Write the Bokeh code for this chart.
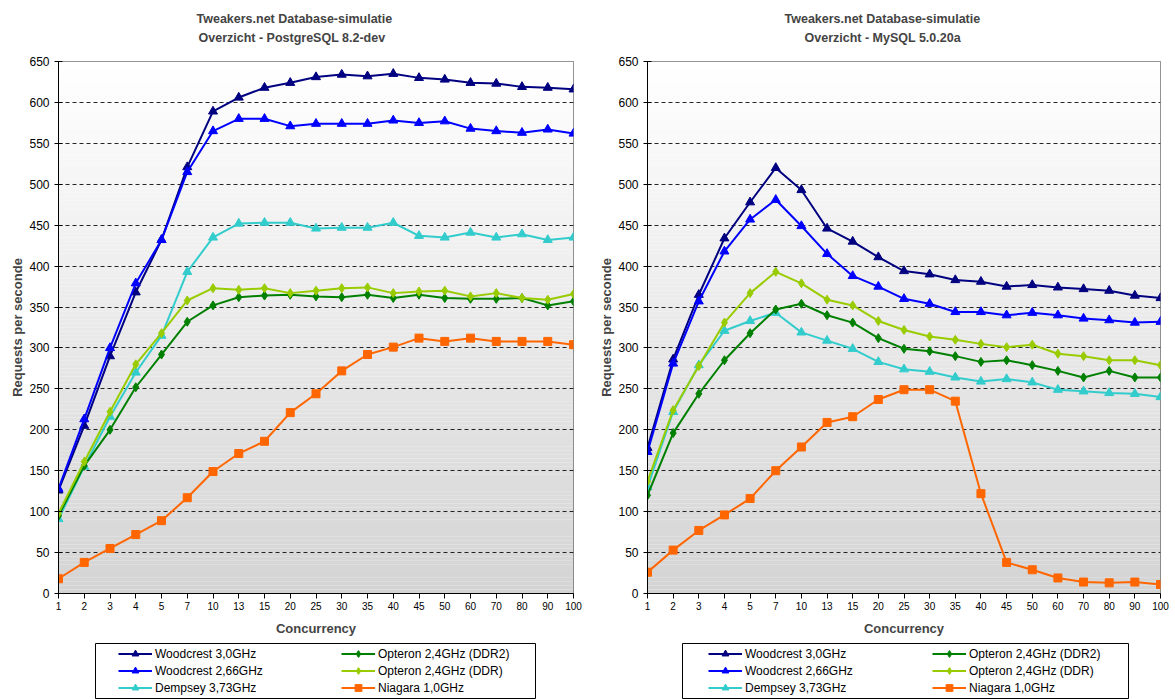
import numpy as np
from bokeh.plotting import figure
from bokeh.models import Title, Range1d, FixedTicker, Legend, LegendItem
from bokeh.layouts import row, column
from bokeh.embed import file_html
from bokeh.resources import INLINE

# ---------------- data ----------------
concurrency = ["1", "2", "3", "4", "5", "7", "10", "13", "15", "20", "25",
               "30", "35", "40", "45", "50", "60", "70", "80", "90", "100"]
y_ticks = list(range(0, 651, 50))

series_names = ["Woodcrest 3,0GHz", "Woodcrest 2,66GHz", "Dempsey 3,73GHz",
                "Opteron 2,4GHz (DDR2)", "Opteron 2,4GHz (DDR)", "Niagara 1,0GHz"]

# PostgreSQL 8.2-dev
pg_woodcrest30 = [126, 205, 290, 368, 432, 521, 589, 606, 618, 624, 631, 634, 632, 635, 630, 628, 624, 623, 619, 618, 616]
pg_woodcrest266 = [128, 213, 300, 379, 432, 515, 565, 580, 580, 571, 574, 574, 574, 578, 575, 577, 568, 565, 563, 567, 562]
pg_dempsey = [91, 155, 216, 270, 315, 393, 435, 452, 453, 453, 446, 447, 447, 453, 437, 435, 441, 435, 439, 432, 435]
pg_opteron_ddr2 = [95, 156, 200, 252, 292, 332, 352, 362, 364, 365, 363, 362, 365, 361, 365, 361, 360, 360, 361, 352, 357]
pg_opteron_ddr = [98, 161, 222, 280, 318, 358, 373, 371, 373, 367, 370, 373, 374, 367, 369, 370, 363, 367, 361, 359, 366]
pg_niagara = [18, 38, 55, 72, 89, 117, 149, 171, 186, 221, 244, 272, 292, 301, 312, 308, 312, 308, 308, 308, 304]

# MySQL 5.0.20a
my_woodcrest30 = [178, 286, 365, 434, 478, 520, 493, 446, 430, 411, 394, 390, 383, 381, 375, 377, 374, 372, 370, 364, 361]
my_woodcrest266 = [173, 281, 357, 418, 457, 481, 449, 415, 388, 375, 360, 354, 344, 344, 340, 343, 340, 336, 334, 331, 332]
my_dempsey = [130, 222, 279, 321, 333, 343, 319, 309, 299, 283, 274, 271, 264, 259, 262, 258, 249, 247, 245, 244, 240]
my_opteron_ddr2 = [120, 196, 244, 285, 318, 347, 354, 340, 331, 312, 299, 296, 290, 283, 285, 279, 272, 264, 272, 264, 264]
my_opteron_ddr = [137, 224, 278, 331, 367, 393, 379, 359, 352, 333, 322, 314, 310, 305, 301, 304, 293, 290, 285, 285, 279]
my_niagara = [26, 53, 77, 96, 116, 150, 179, 209, 216, 237, 249, 249, 235, 122, 38, 29, 19, 14, 13, 14, 11]

# ---------------- styles ----------------
colors = ["#000080", "#0000FF", "#33CCCC", "#008000", "#99CC00", "#FF6600"]
markers = ["triangle", "triangle", "triangle", "diamond", "diamond", "square"]
msizes = [9, 9, 9, 9, 9, 8]
FONT = "Liberation Sans"


def make_chart(subtitle, data, width, mb_left, mb_right, off_main, off_sub):
    n = len(concurrency)
    idx = list(range(n))
    p = figure(width=width, height=643, output_backend="svg", toolbar_location=None,
               title=None, x_range=Range1d(0, n - 1), y_range=Range1d(y_ticks[0], y_ticks[-1]),
               min_border_left=mb_left, min_border_right=mb_right,
               min_border_top=61, min_border_bottom=50)
    p.background_fill_color = "white"
    p.border_fill_color = "white"
    p.outline_line_color = "#707070"
    p.outline_line_width = 1

    # gradient background of the plot area
    edges = np.linspace(y_ticks[0], y_ticks[-1], 131)
    frac = (edges[:-1] + edges[1:]) / 2 / y_ticks[-1]
    grays = [int(round(0xD4 + (0xFF - 0xD4) * f)) for f in frac]
    band_colors = ["#%02x%02x%02x" % (g, g, g) for g in grays]
    p.quad(left=0, right=n - 1, bottom=edges[:-1], top=edges[1:],
           fill_color=band_colors, line_color=None, level="image")

    for vals, c, m, s in zip(data, colors, markers, msizes):
        p.line(x=idx, y=vals, line_color=c, line_width=2)
        p.scatter(x=idx, y=vals, marker=m, size=s, fill_color=c, line_color=c)

    # axes
    p.xaxis.ticker = FixedTicker(ticks=idx)
    p.xaxis.major_label_overrides = {i: c for i, c in enumerate(concurrency)}
    p.xaxis.minor_tick_line_color = None
    p.xaxis.major_tick_in = 0
    p.xaxis.major_tick_out = 5
    p.xaxis.major_label_standoff = 3
    p.xaxis.major_label_text_font = FONT
    p.xaxis.major_label_text_font_size = "10px"
    p.xaxis.major_label_text_color = "black"
    p.xaxis.axis_label = "Concurrency"
    p.xaxis.axis_label_text_font = FONT
    p.xaxis.axis_label_text_font_size = "13px"
    p.xaxis.axis_label_text_font_style = "bold"
    p.xaxis.axis_label_standoff = 8
    p.xaxis.axis_line_color = "black"

    p.yaxis.ticker = FixedTicker(ticks=y_ticks)
    p.yaxis.minor_tick_line_color = None
    p.yaxis.major_tick_in = 4
    p.yaxis.major_tick_out = 4
    p.yaxis.major_label_standoff = 5
    p.yaxis.major_label_text_font = FONT
    p.yaxis.major_label_text_font_size = "12px"
    p.yaxis.major_label_text_color = "black"
    p.yaxis.axis_label = "Requests per seconde"
    p.yaxis.axis_label_text_font = FONT
    p.yaxis.axis_label_text_font_size = "13px"
    p.yaxis.axis_label_text_font_style = "bold"
    p.yaxis.axis_label_standoff = 1
    p.yaxis.axis_line_color = "black"

    p.xgrid.visible = False
    p.ygrid.grid_line_color = "black"
    p.ygrid.grid_line_alpha = 0.85
    p.ygrid.grid_line_dash = "4 3"
    p.ygrid.level = "underlay"

    # spacer between plot area and the two title lines
    p.add_layout(Title(text=" ", align="left", text_font=FONT, text_font_size="10px", standoff=3), "above")
    p.add_layout(Title(text=subtitle, align="left", text_font=FONT, text_font_size="12.5px",
                       text_font_style="bold", offset=off_sub, standoff=2), "above")
    p.add_layout(Title(text="Tweakers.net Database-simulatie", align="left", text_font=FONT,
                       text_font_size="12.5px", text_font_style="bold", offset=off_main, standoff=4), "above")
    return p


def make_legend(data, width, mb_left, frame_w, col1_x, col2_x):
    lf = figure(width=width, height=56, output_backend="svg", toolbar_location=None,
                title=None, x_axis_location=None, y_axis_location=None,
                x_range=Range1d(-3, -2), y_range=Range1d(-3, -2),
                min_border_left=mb_left, min_border_right=width - mb_left - frame_w,
                min_border_top=0, min_border_bottom=1)
    lf.xgrid.visible = False
    lf.ygrid.visible = False
    lf.outline_line_color = "black"
    lf.outline_line_width = 1
    lf.background_fill_color = "white"
    lf.border_fill_color = "white"
    idx = list(range(len(concurrency)))
    items = []
    for name, vals, c, m, s in zip(series_names, data, colors, markers, msizes):
        rl = lf.line(x=idx, y=vals, line_color=c, line_width=2)
        rs = lf.scatter(x=idx, y=vals, marker=m, size=s, fill_color=c, line_color=c)
        items.append(LegendItem(label=name, renderers=[rl, rs]))
    for its, xo in ((items[:3], col1_x), (items[3:], col2_x)):
        leg = Legend(items=its, location=(xo, 2), padding=0, margin=0, spacing=0,
                     glyph_width=34, glyph_height=17, label_height=17, label_standoff=3,
                     label_text_font=FONT, label_text_font_size="12px", label_text_color="black",
                     border_line_color=None, background_fill_alpha=0)
        lf.add_layout(leg, "center")
    return lf


pg_data = [pg_woodcrest30, pg_woodcrest266, pg_dempsey, pg_opteron_ddr2, pg_opteron_ddr, pg_niagara]
my_data = [my_woodcrest30, my_woodcrest266, my_dempsey, my_opteron_ddr2, my_opteron_ddr, my_niagara]

p1 = make_chart("Overzicht - PostgreSQL 8.2-dev", pg_data, 590, 58, 17, 138, 140)
p2 = make_chart("Overzicht - MySQL 5.0.20a", my_data, 585, 57, 15, 137, 157)
l1 = make_legend(pg_data, 590, 95, 440, 23, 246)
l2 = make_legend(my_data, 585, 92, 446, 26, 250)

layout = column(row(p1, p2), row(l1, l2))
open("out.html", "w").write(file_html(layout, INLINE))
